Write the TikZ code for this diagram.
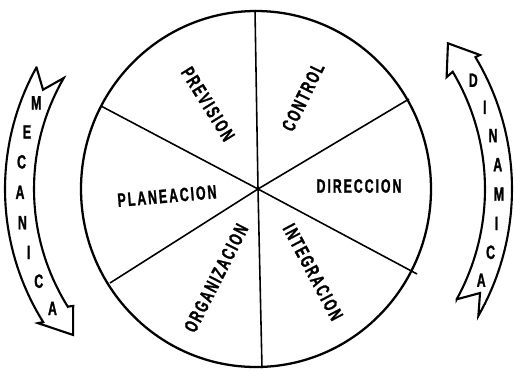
\documentclass[tikz,border=0pt]{standalone}
\usepackage{fontspec}
\newfontfamily\lblfont[FakeStretch=0.64,LetterSpace=10,FakeBold=1.2]{Liberation Sans}
\begin{document}
\begin{tikzpicture}[x=0.02cm,y=0.02cm,
  lbl/.style={font=\lblfont\bfseries\fontsize{11}{13}\selectfont, inner sep=0pt},
  rim/.style={line width=1.3pt},
  spoke/.style={line width=0.9pt},
  band/.style={line width=1.2pt, line join=miter}]
\useasboundingbox (0,0) rectangle (514,370);
\coordinate (O) at (256,181);
\coordinate (C) at (258,181);
\draw[rim] (O) ellipse [x radius=175, y radius=178];
% spokes
\coordinate (sT) at (255,360);
\coordinate (sB) at (262,2);
\coordinate (sUL) at (101,264);
\coordinate (sUR) at (409,271);
\coordinate (sLL) at (110,87);
\coordinate (sLR) at (417,96);
\foreach \s in {sT,sB,sUL,sUR,sLL,sLR} \draw[spoke] (C) -- (\s);
% sector labels
\node[lbl, rotate=-58] (prev) at (208,266) {PREVISION};
\node[lbl, rotate=64] (ctrl) at (303,273) {CONTROL};
\node[lbl] (dir) at (359,184) {DIRECCION};
\node[lbl, rotate=5] (plan) at (167,174) {PLANEACION};
\node[lbl, rotate=63] (org) at (216,92) {ORGANIZACION};
\node[lbl, rotate=-62] (integ) at (313,98) {INTEGRACION};
% left curved arrow (MECANICA)
\draw[band] ([shift={(O)}]151:251)
  -- plot[domain=151:212,samples=40] ({256+251*cos(\x)},{181+251*sin(\x)})
  -- ([shift={(O)}]211.6:256)
  -- ([shift={(O)}]218.6:234)
  -- ([shift={(O)}]212.6:217)
  -- ([shift={(O)}]212:222)
  -- plot[domain=212:150,samples=40] ({256+222*cos(\x)},{181+222*sin(\x)})
  -- ([shift={(O)}]155:235)
  -- cycle;
\foreach \ch [count=\i from 0] in {M,E,C,A,N,I,C,A}
  \node[lbl] (mec\i) at ({256+236*cos(158.6+7.4*\i)},{181+236*sin(158.6+7.4*\i)}) {\ch};
% right curved arrow (DINAMICA)
\draw[band] ([shift={(O)}]31:256)
  -- plot[domain=31:-29.7,samples=40] ({256+256*cos(\x)},{181+256*sin(\x)})
  -- ([shift={(O)}]-24.9:247)
  -- ([shift={(O)}]-28.8:229)
  -- plot[domain=-28.8:30.8,samples=40] ({256+229*cos(\x)},{181+229*sin(\x)})
  -- ([shift={(O)}]30.4:221)
  -- ([shift={(O)}]37.2:241)
  -- ([shift={(O)}]30.9:261)
  -- cycle;
\foreach \ch [count=\i from 0] in {D,I,N,A,M,I,C,A}
  \node[lbl] (din\i) at ({256+243*cos(26.6-6.95*\i)},{181+243*sin(26.6-6.95*\i)}) {\ch};
\end{tikzpicture}
\end{document}
